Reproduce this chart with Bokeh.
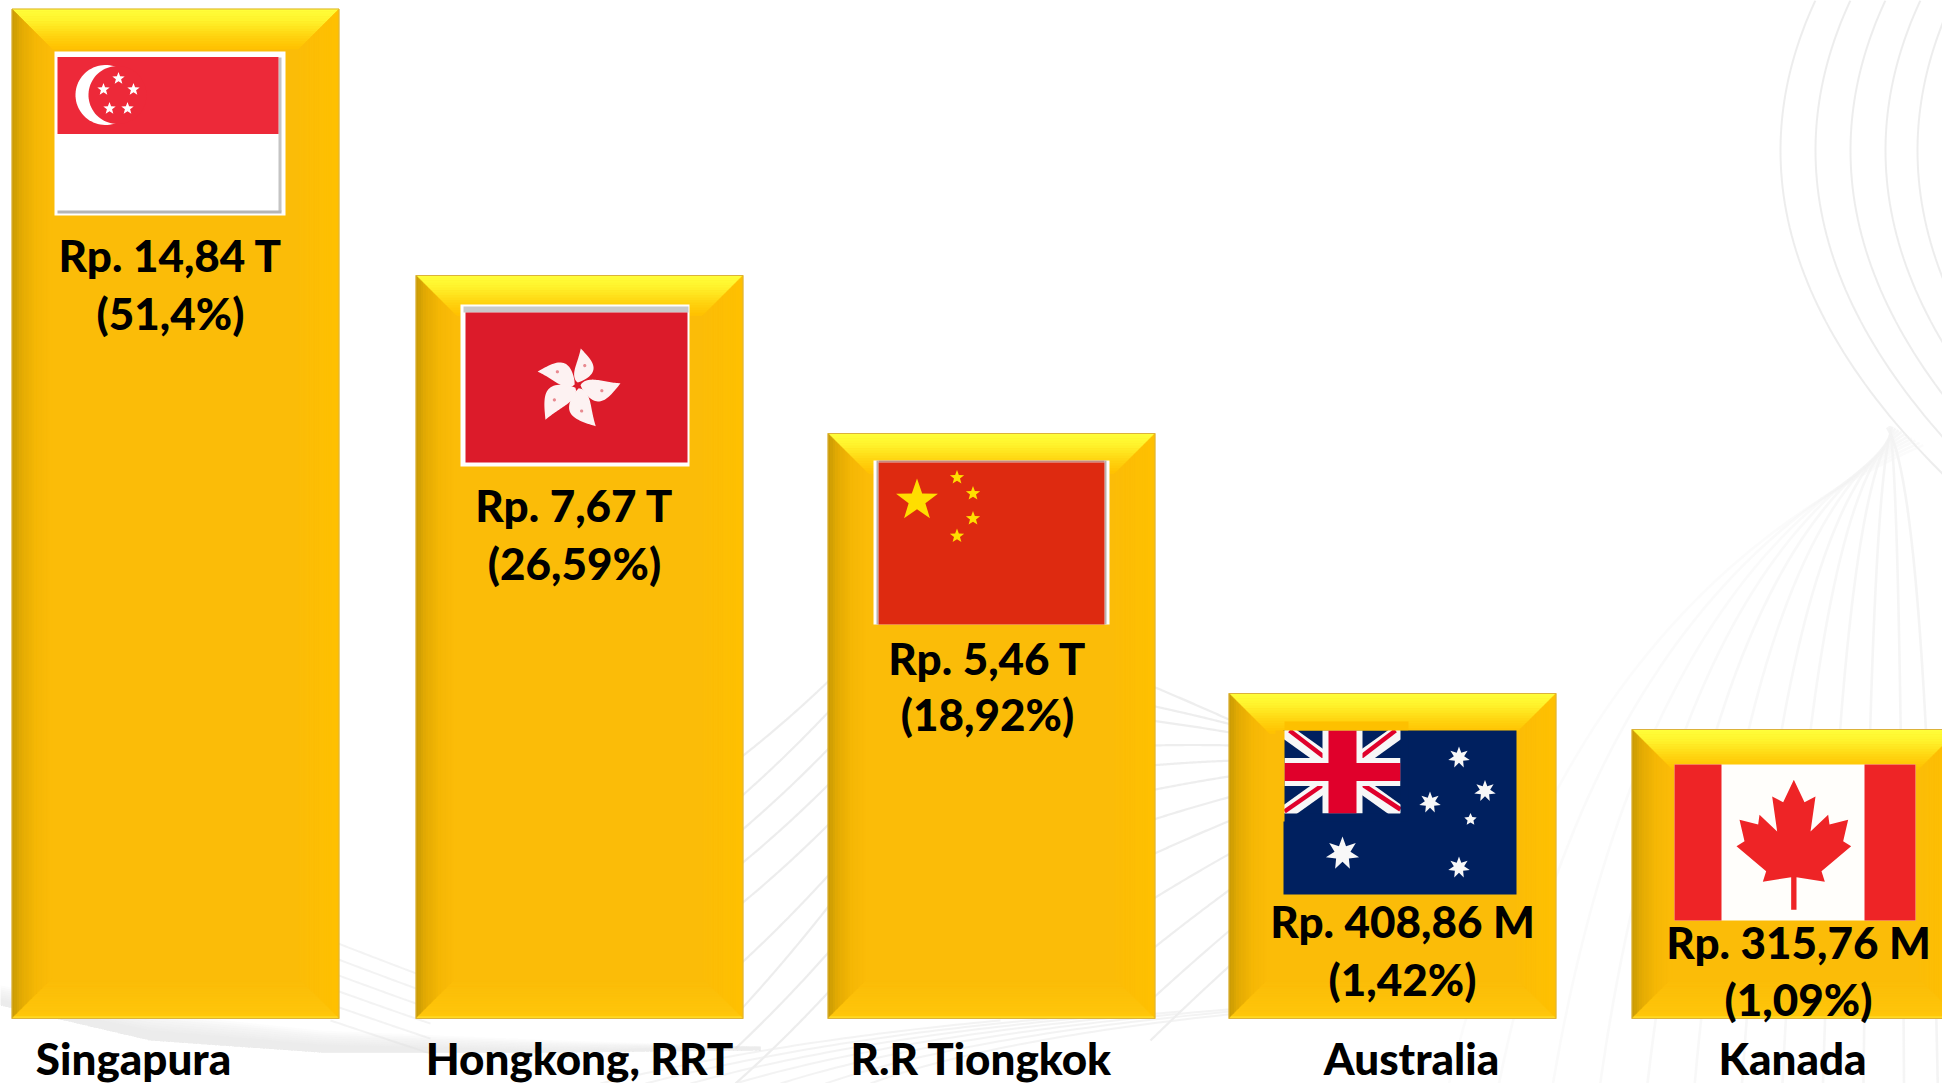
from math import pi
import numpy as np
from bokeh.plotting import figure
from bokeh.models import Range1d
from bokeh.core.properties import value
from bokeh.embed import file_html
from bokeh.resources import INLINE

# ---- data ----
categories = ["Singapura", "Hongkong, RRT", "R.R Tiongkok", "Australia", "Kanada"]
amounts = ["Rp. 14,84 T", "Rp. 7,67 T", "Rp. 5,46 T", "Rp. 408,86 M", "Rp. 315,76 M"]
shares = ["(51,4%)", "(26,59%)", "(18,92%)", "(1,42%)", "(1,09%)"]
drawn_heights = [1009.5, 743, 585, 325, 289]   # bars are not to scale in the original

# ---- layout (page pixels) ----
W, H = 1942, 1083
BASE = 1018
BAR_W = 327
bar_left = [11.5, 415.5, 827.5, 1228.5, 1631.5]
label_x = [133, 579, 981, 1411, 1792]
label_base = 1057
value_x = [170, 574, 987, 1402, 1798]
amount_base = [254, 504, 657, 920, 941]
share_base = [312, 562, 713, 978, 998]
FONT = value("'Lato Heavy', Lato")
TXT = 44


def Y(py):
    return BASE - np.asarray(py, dtype=float)


p = figure(width=W, height=H, output_backend="svg", toolbar_location=None,
           x_range=Range1d(0, W), y_range=Range1d(BASE - H, BASE),
           min_border=0, outline_line_color=None, background_fill_color="white",
           border_fill_color="white")
p.axis.visible = False
p.grid.visible = False


def hexrgb(c):
    return np.array([int(c[i:i + 2], 16) for i in (1, 3, 5)], dtype=float)


def ramp(stops, t):
    ts = [s[0] for s in stops]
    cs = np.array([hexrgb(s[1]) for s in stops])
    rgb = [np.interp(t, ts, cs[:, k]) for k in range(3)]
    return "#%02x%02x%02x" % tuple(int(round(v)) for v in rgb)


def bezier(p0, p1, p2, n=50):
    t = np.linspace(0, 1, n)[:, None]
    return (1 - t) ** 2 * np.array(p0) + 2 * t * (1 - t) * np.array(p1) + t ** 2 * np.array(p2)


# ---- faint background art ----
def bg_line(c, color="#e9e9e9", w=2.0, a=0.8):
    p.line(c[:, 0], Y(c[:, 1]), line_color=color, line_width=w, line_alpha=a)


for x0 in [1780, 1815, 1850, 1885, 1917, 1950]:
    ys = np.linspace(0, 540, 70)
    xs = x0 + 0.00155 * (ys - 150) ** 2
    bg_line(np.column_stack([xs, ys]), "#e6e6e6", 2.0, 0.7)

x730 = [1563, 1600, 1640, 1675, 1710, 1745, 1780, 1810, 1840, 1870, 1900, 1925]
for i, xa in enumerate(x730):
    d = 1890 - xa
    bg_line(bezier((1890 + 0.1 * d, 425 + 0.06 * abs(d)), (xa, 470 + 0.4 * abs(d)), (xa - 0.35 * d, 1083)),
            "#f2f2f2", 2.6, 0.3 + 0.55 * i / 11)

left_gap = [(753, 680), (793, 710), (827, 747), (860, 783), (900, 823), (960, 873), (1007, 903), (1040, 950), (1075, 990)]
for a, b in left_gap:
    mid = (a + b) / 2 + 6
    bg_line(bezier((735, a + 8), (785, mid), (835, b - 6)), "#e8e8e8", 2.2, 0.8)
right_gap = [(685, 722), (705, 725), (720, 733), (745, 745), (765, 760), (790, 775), (820, 795), (855, 818),
             (900, 850), (950, 885), (1000, 925), (1040, 960)]
for a, b in right_gap:
    bg_line(bezier((1150, a), (1192, (a + b) / 2 - 1), (1235, b)), "#e8e8e8", 2.2, 0.75)

for i in range(7):
    bg_line(bezier((600 + 45 * i, 1083), (780 + 40 * i, 1040 - 2 * i), (1000 + 60 * i, 1020 - 3 * i)), "#eeeeee", 2.0, 0.7)

for i in range(6):
    bg_line(bezier((330, 940 + 16 * i), (420, 975 + 15 * i), (430, 978 + 15 * i)), "#eeeeee", 2.0, 0.7)

for i in range(8):
    top = np.array([[0, 985 + i * 2], [150, 1012 + i * 2.5], [320, 1030 + i * 2], [560, 1040 + i * 1.4], [760, 1046]])
    bot = np.array([[760, 1050], [560, 1052], [320, 1052], [150, 1040], [0, 1005]])
    p.patch(np.r_[top[:, 0], bot[:, 0]], Y(np.r_[top[:, 1], bot[:, 1]]),
            fill_color="#dddddd", fill_alpha=0.1, line_color=None)

# ---- bars ----
centers = [l + BAR_W / 2 for l in bar_left]
p.vbar(x=centers, width=BAR_W, top=drawn_heights, bottom=0, fill_color="#fbbc08", line_color=None)

TOP = [(0, "#ffff3a"), (.3, "#fff32c"), (.65, "#ffd612"), (1, "#ffc000")]
LEFT = [(0, "#c89a05"), (.25, "#e3ab03"), (.6, "#f5b705"), (1, "#fbbc08")]
RIGHT = [(0, "#ffc000"), (1, "#fcbd07")]
BOT = [(0, "#ffe535"), (.08, "#ffc60a"), (1, "#fbbc08")]
N, D = 16, 40
qx, qy, qc = [], [], []
for l, h in zip(bar_left, drawn_heights):
    r, t, b = l + BAR_W, BASE - h, BASE
    for k in range(N):
        a, e = D * k / N, D * (k + 1) / N
        c = (k + .5) / N
        for pts, st in [
            ([(l + a, t + a), (r - a, t + a), (r - e, t + e), (l + e, t + e)], TOP),
            ([(l + a, t + a), (l + e, t + e), (l + e, b - e), (l + a, b - a)], LEFT),
            ([(r - a, t + a), (r - e, t + e), (r - e, b - e), (r - a, b - a)], RIGHT),
            ([(l + a, b - a), (r - a, b - a), (r - e, b - e), (l + e, b - e)], BOT),
        ]:
            arr = np.array(pts)
            qx.append(arr[:, 0])
            qy.append(Y(arr[:, 1]))
            qc.append(ramp(st, c))
p.patches(qx, qy, fill_color=qc, line_color=qc, line_width=0.6)
p.vbar(x=centers, width=BAR_W, top=drawn_heights, bottom=0, fill_color=None, line_color="#dcb23a", line_width=1)


# ---- flags ----
def box(x0, x1, y0, y1, color):
    p.quad(left=[x0], right=[x1], top=[Y(y0)], bottom=[Y(y1)], fill_color=color, line_color=None)


def star(cx, cy, r, color, pts=5, inner=0.42, rot=-pi / 2):
    ang = rot + np.arange(2 * pts) * pi / pts
    rad = np.where(np.arange(2 * pts) % 2 == 0, r, r * inner)
    p.patch(cx + rad * np.cos(ang), Y(cy + rad * np.sin(ang)), fill_color=color, line_color=None)


def disc(cx, cy, r, color):
    a = np.linspace(0, 2 * pi, 80)
    p.patch(cx + r * np.cos(a), Y(cy + r * np.sin(a)), fill_color=color, line_color=None)


# Singapore
box(54, 285, 51, 215, "#ffffff")
box(278, 281, 57, 211, "#c4c4c4")
box(57, 281, 210, 213, "#b5b5b5")
box(57, 278, 56.5, 133.5, "#ed2939")
disc(105, 94.5, 30, "#ffffff")
disc(117, 94.5, 29, "#ed2939")
for sx, sy in [(118, 78), (103, 89), (133, 89), (109, 108), (127, 108)]:
    star(sx, sy, 6.5, "#ffffff")

# Hong Kong
box(460, 689, 304, 466, "#ffffff")
box(463, 688, 306, 312, "#c9c9c9")
box(465, 687, 312, 462, "#dc1b2a")
hk_c = (577, 385)
for tip in [(580, 351), (617, 383), (594, 423), (547, 417), (540, 372)]:
    v = np.array(tip, dtype=float) - hk_c
    L = np.hypot(*v)
    v /= L
    n = np.array([-v[1], v[0]])
    u = np.linspace(0, 1, 30)
    w = 0.27 * np.sin(pi * u ** 0.75)
    curl = 0.16 * np.sin(pi * u)
    upper = np.outer(u * L, v) + np.outer((curl + w) * L, n)
    lower = np.outer(u * L, v) + np.outer((curl - w) * L, n)
    poly = np.vstack([upper, lower[::-1]]) + np.array(hk_c) + v * 3
    p.patch(poly[:, 0], Y(poly[:, 1]), fill_color="#fdf2f2", line_color=None)
    dx, dy = np.array(hk_c) + v * L * .6 + n * L * .16
    disc(dx, dy, 1.6, "#e88a90")

# China
box(873, 1109, 460, 624, "#ffffff")
box(876, 878, 460, 624, "#b9b1ae")
box(1104, 1106, 460, 624, "#b9b1ae")
box(878, 1104, 460, 462, "#c58a80")
box(878, 1104, 462, 624, "#de2a10")
star(916.5, 500, 22, "#ffde00", inner=0.4)
for sx, sy in [(956.5, 477), (972.5, 493), (972.5, 518), (956.5, 535.5)]:
    star(sx, sy, 7.5, "#ffde00", inner=0.42)

# Australia
ax0, ax1, ay0, ay1 = 1284, 1516, 730, 894
box(ax0 - 1, ax1, ay0, ay1, "#00205f")
cx0, cx1, cy0, cy1 = ax0, 1400, ay0, 813
cmx, cmy = (cx0 + cx1) / 2, (cy0 + cy1) / 2
for (x0, y0, x1, y1) in [(cx0, cy0, cx1, cy1), (cx0, cy1, cx1, cy0)]:
    p.line([x0, x1], Y([y0, y1]), line_color="#f7f7f7", line_width=15)
p.line([cx0 + 5, cmx - 4], Y([cy0, cmy - 4]), line_color="#e0002b", line_width=4.5)
p.line([cmx + 4, cx1], Y([cmy + 2, cy1 - 4]), line_color="#e0002b", line_width=4.5)
p.line([cx1 - 5, cmx + 4], Y([cy0, cmy - 4]), line_color="#e0002b", line_width=4.5)
p.line([cx0, cmx - 4], Y([cy1 - 2, cmy + 2]), line_color="#e0002b", line_width=4.5)
box(cmx - 20, cmx + 20, cy0, cy1, "#f7f7f7")
box(cx0, cx1, cmy - 14, cmy + 14, "#f7f7f7")
box(cmx - 14, cmx + 14, cy0, cy1, "#e0002b")
box(cx0, cx1, cmy - 9, cmy + 9, "#e0002b")
# hide cross overrun outside the canton
box(cx1, cx1 + 8, cy0, cy1 + 8, "#00205f")
box(cx0, cx1 + 8, cy1, cy1 + 8, "#00205f")
box(cx0 - 9, cx0, cy0, cy1 + 8, "#fbbc08")
box(cx0, cx1 + 8, cy0 - 9, cy0, "#fdc000")
for sx, sy, r, pts in [(1342, 853, 17, 7), (1458.5, 757, 11, 7), (1484.5, 790.5, 11, 7),
                       (1429.5, 802, 11, 7), (1470, 819, 6.5, 5), (1458.5, 867, 11, 7)]:
    star(sx, sy, r, "#f8f8f8", pts=pts, inner=0.48)

# Canada
box(1674, 1915, 764, 920, "#fffefb")
box(1674, 1721, 764, 920, "#ee2426")
box(1864, 1915, 764, 920, "#ee2426")
half = [(400, 88), (432, 155), (465, 138), (450, 243), (503, 193), (507, 222), (563, 208),
        (548, 272), (572, 287), (483, 362), (493, 394), (408, 380), (408, 478)]
leaf = np.array(half + [(800 - a, b) for a, b in half[::-1]][:-1], dtype=float)
p.patch(1660 + leaf[:, 0] / 3, Y(750 + leaf[:, 1] / 3), fill_color="#ee2426", line_color=None)

# ---- texts ----
common = dict(text_font=FONT, text_font_style="bold", text_color="#000000",
              text_align="center", text_baseline="alphabetic", text_font_size=f"{TXT}px")
p.text(x=value_x, y=Y(amount_base), text=amounts, **common)
p.text(x=value_x, y=Y(share_base), text=shares, **common)
p.text(x=label_x, y=Y([label_base] * 5), text=categories, **common)

open("out.html", "w").write(file_html(p, INLINE))
